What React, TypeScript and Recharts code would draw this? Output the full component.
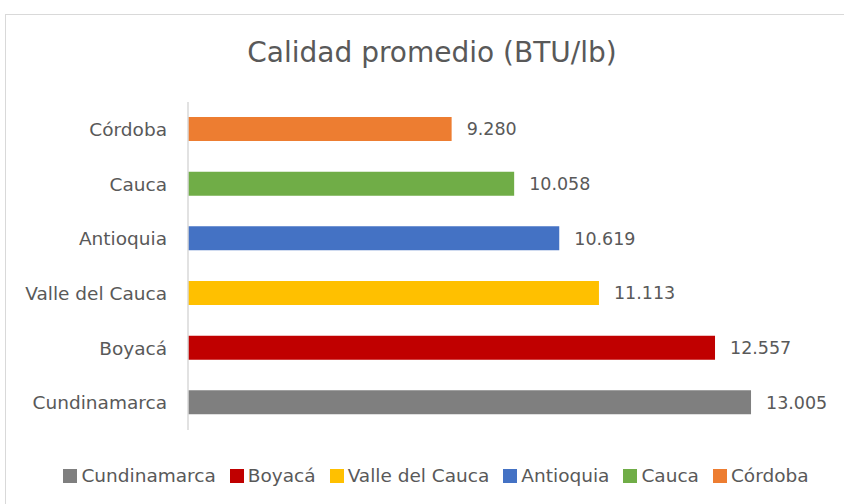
import React from 'react';
import { BarChart, Bar, XAxis, YAxis, Cell, LabelList, Legend } from 'recharts';

// legend order (bottom bar first)
const departments = ['Cundinamarca', 'Boyacá', 'Valle del Cauca', 'Antioquia', 'Cauca', 'Córdoba'];
const quality = [13005, 12557, 11113, 10619, 10058, 9280];
const colors = ['#7f7f7f', '#c00000', '#ffc000', '#4472c4', '#70ad47', '#ed7d31'];

const data = departments.map((name, i) => ({ name, value: quality[i] }));

const FONT = '"DejaVu Sans", sans-serif';
const TEXT = '#595959';

const fmt = (v: number) => String(v).replace(/\B(?=(\d{3})+(?!\d))/g, '.');

const renderLegend = () => (
  <div style={{ display: 'flex', justifyContent: 'center', alignItems: 'center', fontFamily: FONT, fontSize: 18.5, color: TEXT }}>
    {departments.map((name, i) => (
      <div key={name} style={{ display: 'flex', alignItems: 'center', marginRight: i < departments.length - 1 ? 14 : 0 }}>
        <span style={{ width: 14, height: 14, background: colors[i], marginRight: 4, display: 'inline-block' }} />
        <span style={{ lineHeight: '22px' }}>{name}</span>
      </div>
    ))}
  </div>
);

const App: React.FC = () => {
  return (
    <div style={{ position: 'absolute', left: 0, top: 0, width: 844, height: 504, background: '#fff', overflow: 'hidden' }}>
      <div style={{ position: 'absolute', left: 5, top: 14, width: 900, height: 600, borderTop: '1.5px solid #d9d9d9', borderLeft: '1.5px solid #d9d9d9' }} />
      <div
        style={{
          position: 'absolute',
          left: 0,
          width: 864,
          top: 39,
          textAlign: 'center',
          fontFamily: FONT,
          fontSize: 28,
          lineHeight: '28px',
          color: TEXT,
        }}
      >
        Calidad promedio (BTU/lb)
      </div>
      <div style={{ position: 'absolute', left: 0, top: 0 }}>
        <BarChart
          width={844}
          height={504}
          data={data}
          layout="vertical"
          margin={{ top: 102, right: 13, bottom: 74, left: 0 }}
          style={{ fontFamily: FONT }}
        >
          <XAxis type="number" domain={[6000, 14000]} hide />
          <YAxis
            type="category"
            dataKey="name"
            reversed
            width={188}
            tickSize={0}
            tickMargin={21}
            tickLine={false}
            axisLine={{ stroke: '#d9d9d9', strokeWidth: 1.5 }}
            tick={{ fill: TEXT, fontSize: 18.5, fontFamily: FONT }}
            interval={0}
          />
          <Legend
            layout="horizontal"
            verticalAlign="middle"
            align="center"
            content={renderLegend}
            wrapperStyle={{ top: 465, left: 0, width: 872 }}
          />
          <Bar dataKey="value" barSize={24} isAnimationActive={false}>
            {data.map((d, i) => (
              <Cell key={d.name} fill={colors[i]} />
            ))}
            <LabelList
              dataKey="value"
              position="right"
              offset={15}
              formatter={(v: any) => fmt(Number(v))}
              style={{ fill: TEXT, fontSize: 17.5, fontFamily: FONT }}
            />
          </Bar>
        </BarChart>
      </div>
    </div>
  );
};

export default App;
